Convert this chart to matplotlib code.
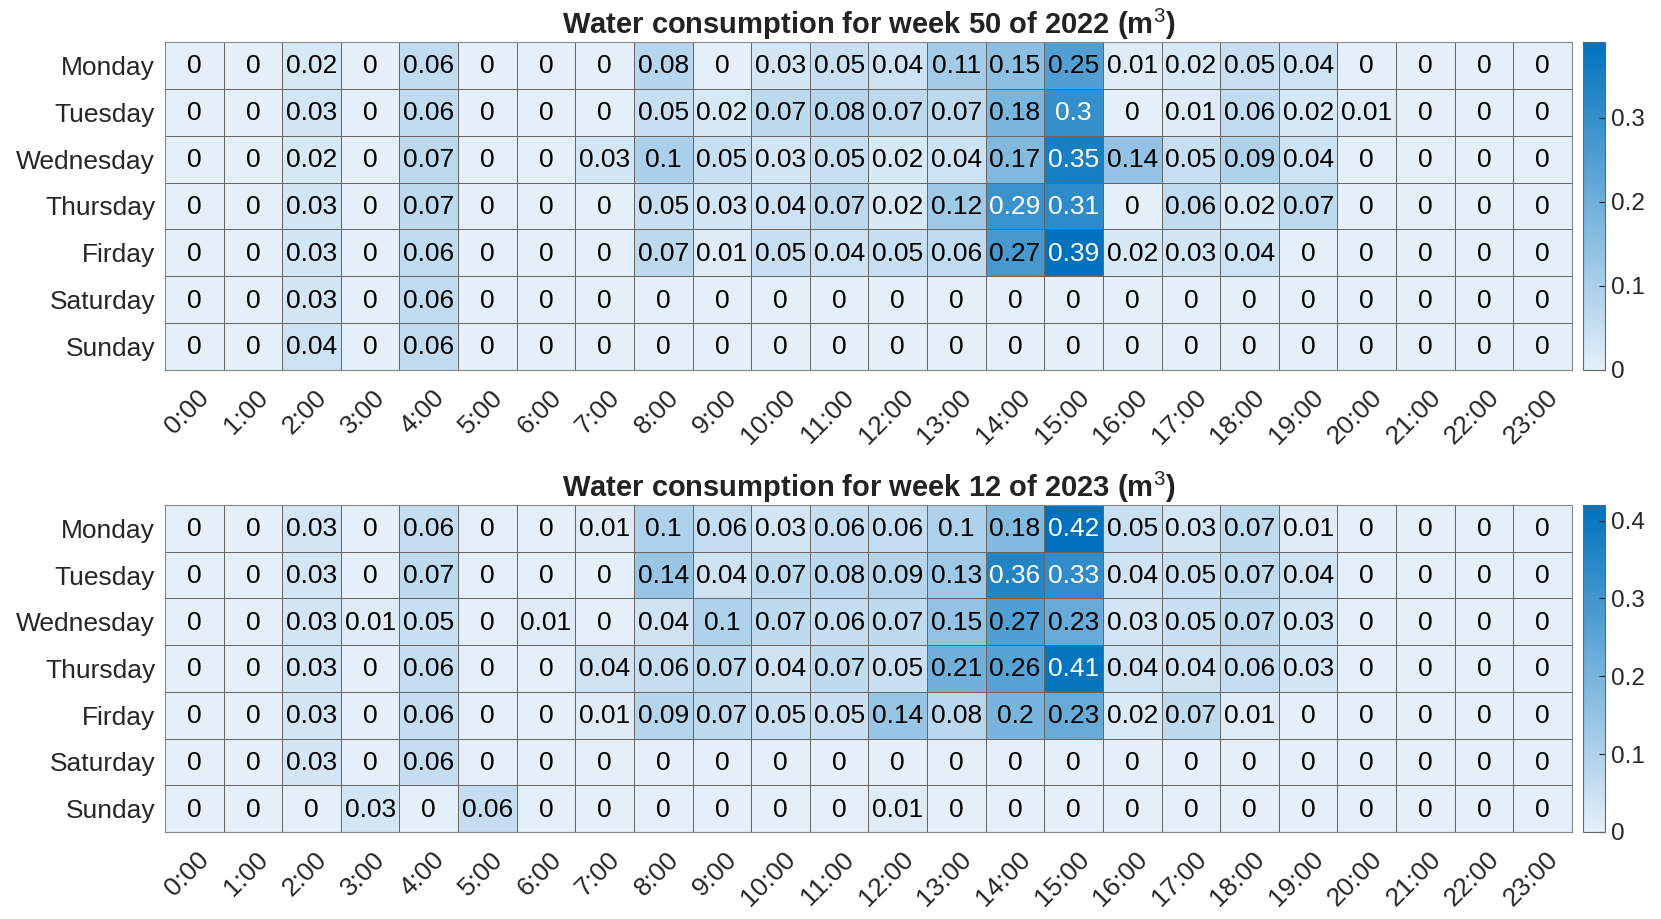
import numpy as np
import matplotlib
matplotlib.use('Agg')
from matplotlib import pyplot as plt
from matplotlib.colors import LinearSegmentedColormap

plt.rcParams['font.family'] = ['Liberation Sans', 'DejaVu Sans']

#%% Data
days = ['Monday', 'Tuesday', 'Wednesday', 'Thursday', 'Firday', 'Saturday', 'Sunday']
hours = ['{}:00'.format(h) for h in range(24)]

week50_2022 = [
    [0, 0, 0.02, 0, 0.06, 0, 0, 0, 0.08, 0, 0.03, 0.05, 0.04, 0.11, 0.15, 0.25, 0.01, 0.02, 0.05, 0.04, 0, 0, 0, 0],
    [0, 0, 0.03, 0, 0.06, 0, 0, 0, 0.05, 0.02, 0.07, 0.08, 0.07, 0.07, 0.18, 0.3, 0, 0.01, 0.06, 0.02, 0.01, 0, 0, 0],
    [0, 0, 0.02, 0, 0.07, 0, 0, 0.03, 0.1, 0.05, 0.03, 0.05, 0.02, 0.04, 0.17, 0.35, 0.14, 0.05, 0.09, 0.04, 0, 0, 0, 0],
    [0, 0, 0.03, 0, 0.07, 0, 0, 0, 0.05, 0.03, 0.04, 0.07, 0.02, 0.12, 0.29, 0.31, 0, 0.06, 0.02, 0.07, 0, 0, 0, 0],
    [0, 0, 0.03, 0, 0.06, 0, 0, 0, 0.07, 0.01, 0.05, 0.04, 0.05, 0.06, 0.27, 0.39, 0.02, 0.03, 0.04, 0, 0, 0, 0, 0],
    [0, 0, 0.03, 0, 0.06, 0, 0, 0, 0, 0, 0, 0, 0, 0, 0, 0, 0, 0, 0, 0, 0, 0, 0, 0],
    [0, 0, 0.04, 0, 0.06, 0, 0, 0, 0, 0, 0, 0, 0, 0, 0, 0, 0, 0, 0, 0, 0, 0, 0, 0],
]

week12_2023 = [
    [0, 0, 0.03, 0, 0.06, 0, 0, 0.01, 0.1, 0.06, 0.03, 0.06, 0.06, 0.1, 0.18, 0.42, 0.05, 0.03, 0.07, 0.01, 0, 0, 0, 0],
    [0, 0, 0.03, 0, 0.07, 0, 0, 0, 0.14, 0.04, 0.07, 0.08, 0.09, 0.13, 0.36, 0.33, 0.04, 0.05, 0.07, 0.04, 0, 0, 0, 0],
    [0, 0, 0.03, 0.01, 0.05, 0, 0.01, 0, 0.04, 0.1, 0.07, 0.06, 0.07, 0.15, 0.27, 0.23, 0.03, 0.05, 0.07, 0.03, 0, 0, 0, 0],
    [0, 0, 0.03, 0, 0.06, 0, 0, 0.04, 0.06, 0.07, 0.04, 0.07, 0.05, 0.21, 0.26, 0.41, 0.04, 0.04, 0.06, 0.03, 0, 0, 0, 0],
    [0, 0, 0.03, 0, 0.06, 0, 0, 0.01, 0.09, 0.07, 0.05, 0.05, 0.14, 0.08, 0.2, 0.23, 0.02, 0.07, 0.01, 0, 0, 0, 0, 0],
    [0, 0, 0.03, 0, 0.06, 0, 0, 0, 0, 0, 0, 0, 0, 0, 0, 0, 0, 0, 0, 0, 0, 0, 0, 0],
    [0, 0, 0, 0.03, 0, 0.06, 0, 0, 0, 0, 0, 0, 0.01, 0, 0, 0, 0, 0, 0, 0, 0, 0, 0, 0],
]

titles = ['Water consumption for week 50 of 2022 (m$^{3}$)',
          'Water consumption for week 12 of 2023 (m$^{3}$)']

#%% Plot
plt.rcParams['mathtext.fontset'] = 'custom'
plt.rcParams['mathtext.rm'] = 'Liberation Sans'
plt.rcParams['mathtext.it'] = 'Liberation Sans'
plt.rcParams['mathtext.bf'] = 'Liberation Sans:bold'

cmap = LinearSegmentedColormap.from_list('mblue', ['#e4eff9', '#0072bd'])

fig = plt.figure(figsize=(16.61, 9.19), dpi=100)
panels = [(0.0993, 0.5974, 0.8471, 0.3569), (0.0993, 0.0947, 0.8471, 0.3558)]

for (l, b, w, h), Data, title in zip(panels, [week50_2022, week12_2023], titles):
    Data = np.array(Data)
    vmax = Data.max()
    ax = fig.add_axes([l, b, w, h])
    mesh = ax.pcolormesh(Data, cmap=cmap, vmin=0, vmax=vmax,
                         edgecolors='#666666', linewidth=0.5)
    ax.set_xlim(0, Data.shape[1])
    ax.set_ylim(Data.shape[0], 0)
    for i in range(Data.shape[0]):
        for j in range(Data.shape[1]):
            v = Data[i, j]
            col = 'white' if v / vmax > 0.72 else 'black'
            ax.text(j + 0.5, i + 0.52, '{:g}'.format(v), ha='center', va='center',
                    fontsize=19, color=col)
    ax.set_yticks(np.arange(Data.shape[0]) + 0.5)
    ax.set_yticklabels(days, fontsize=19, color='#262626')
    ax.set_xticks(np.arange(Data.shape[1]) + 0.55)
    ax.set_xticklabels(hours, fontsize=19, color='#262626', rotation=45,
                       ha='right', va='top', rotation_mode='anchor')
    ax.tick_params(length=0, pad=7)
    ax.tick_params(axis='x', pad=11)
    for s in ax.spines.values():
        s.set_color('#888888')
        s.set_linewidth(0.8)
    ax.set_title(title, fontsize=21, fontweight='bold', color='#222222', pad=6)

    cax = fig.add_axes([0.9531, b, 0.0132, h])
    cb = fig.colorbar(mesh, cax=cax)
    cticks = np.round(np.arange(0, vmax + 1e-9, 0.1), 1)
    cb.set_ticks(cticks)
    cb.set_ticklabels(['{:g}'.format(t) for t in cticks])
    cb.ax.tick_params(direction='in', length=4, width=0.8, labelsize=17.5,
                      colors='#262626', pad=4)
    cb.outline.set_edgecolor('#666666')
    cb.outline.set_linewidth(0.8)

fig.savefig('out.png', dpi=100)
